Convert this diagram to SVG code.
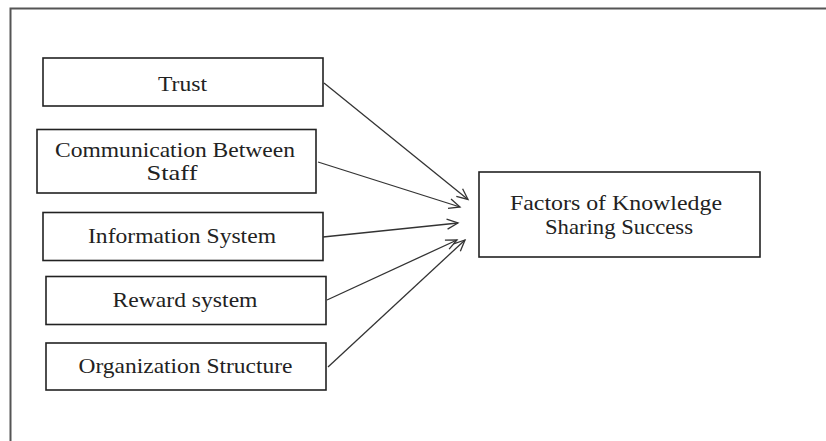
<svg xmlns="http://www.w3.org/2000/svg" width="826" height="441" viewBox="0 0 826 441">
<defs>
<style>
.box{fill:#fff;stroke:#222;stroke-width:1.6}
.lbl{font-family:"Liberation Serif","Times New Roman",serif;font-size:21px;fill:#222;text-anchor:middle}
.conn{stroke:#333;stroke-width:1.3;fill:none;marker-end:url(#arr)}
.frame{stroke:#555;stroke-width:2;fill:none}
</style>
<marker id="arr" markerUnits="userSpaceOnUse" markerWidth="14" markerHeight="14" refX="12" refY="6" orient="auto">
<path d="M1,1 L12,6 L1,11" fill="none" stroke="#333" stroke-width="1.3"/>
</marker>
</defs>
<rect width="826" height="441" fill="#fff"/>
<path class="frame" d="M10.5,441 L10.5,8.5 L826,8.5"/>
<g id="trust">
<rect class="box" x="43" y="58" width="280" height="48"/>
<text class="lbl" x="182.5" y="90.5" textLength="49" lengthAdjust="spacingAndGlyphs">Trust</text>
</g>
<g id="communication">
<rect class="box" x="37" y="129.5" width="279" height="63.5"/>
<text class="lbl" x="175" y="156.5" textLength="240" lengthAdjust="spacingAndGlyphs">Communication Between</text>
<text class="lbl" x="172" y="180" textLength="51" lengthAdjust="spacingAndGlyphs">Staff</text>
</g>
<g id="information">
<rect class="box" x="43" y="212.5" width="280" height="48"/>
<text class="lbl" x="182" y="243" textLength="188" lengthAdjust="spacingAndGlyphs">Information System</text>
</g>
<g id="reward">
<rect class="box" x="46" y="276.5" width="280" height="48"/>
<text class="lbl" x="185" y="307" textLength="145" lengthAdjust="spacingAndGlyphs">Reward system</text>
</g>
<g id="organization">
<rect class="box" x="46" y="343" width="280" height="47"/>
<text class="lbl" x="185.5" y="372.5" textLength="214" lengthAdjust="spacingAndGlyphs">Organization Structure</text>
</g>
<g id="factors">
<rect class="box" x="479" y="172" width="281" height="85"/>
<text class="lbl" x="616" y="210" textLength="212" lengthAdjust="spacingAndGlyphs">Factors of Knowledge</text>
<text class="lbl" x="619" y="233.5" textLength="148" lengthAdjust="spacingAndGlyphs">Sharing Success</text>
</g>
<g id="connectors">
<line class="conn" x1="324" y1="83" x2="468" y2="199.5"/>
<line class="conn" x1="318" y1="162" x2="460" y2="207"/>
<line class="conn" x1="323" y1="237" x2="458" y2="223"/>
<line class="conn" x1="327" y1="300" x2="457" y2="240"/>
<line class="conn" x1="328" y1="367" x2="465" y2="240"/>
</g>
</svg>
